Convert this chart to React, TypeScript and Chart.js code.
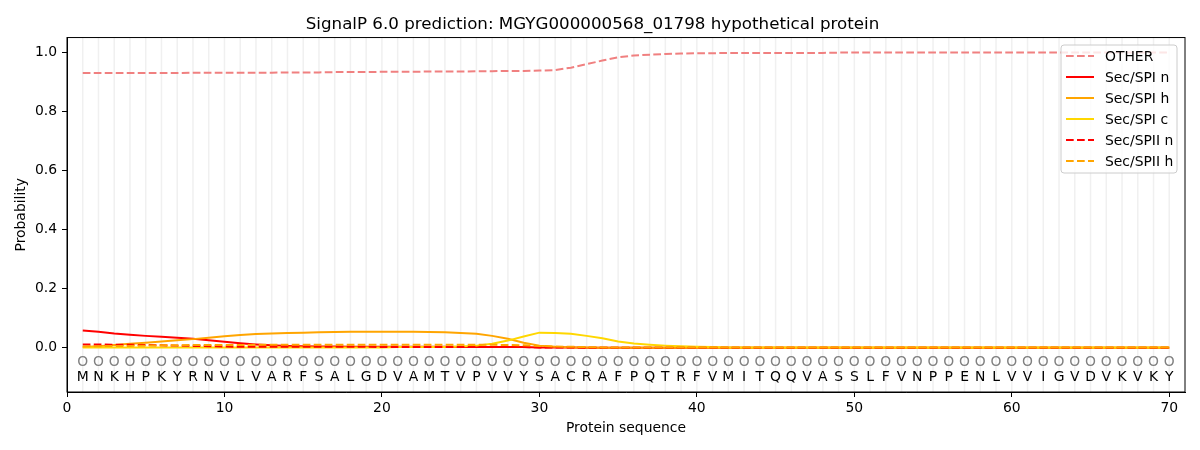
import { useEffect, useRef } from 'react';
import { Chart, registerables } from 'chart.js';
import type { Plugin } from 'chart.js';

Chart.register(...registerables);

const TITLE = 'SignalP 6.0 prediction: MGYG000000568_01798 hypothetical protein';
const SEQUENCE = 'MNKHPKYRNVLVARFSALGDVAMTVPVVYSACRAFPQTRFVMITQQVASSLFVNPPENLVVIGVDVKVKY'.split('');
const X_TICKS = [0, 10, 20, 30, 40, 50, 60, 70];
const Y_TICKS = [0, 0.2, 0.4, 0.6, 0.8, 1.0];

const OTHER = [
    0.930, 0.930, 0.930, 0.930, 0.930, 0.930, 0.930, 0.931, 0.931, 0.931,
    0.931, 0.931, 0.931, 0.932, 0.932, 0.932, 0.933, 0.933, 0.933, 0.934,
    0.934, 0.934, 0.935, 0.935, 0.935, 0.936, 0.936, 0.937, 0.937, 0.938,
    0.940, 0.948, 0.960, 0.972, 0.983, 0.989, 0.992, 0.994, 0.996, 0.997,
    0.997, 0.998, 0.998, 0.998, 0.998, 0.998, 0.998, 0.998, 0.999, 0.999,
    0.999, 0.999, 0.999, 0.999, 0.999, 0.999, 0.999, 0.999, 0.999, 0.999,
    0.999, 0.999, 0.999, 0.999, 0.999, 0.999, 0.999, 0.999, 0.999, 0.999,
];
const SPI_N = [
    0.058, 0.054, 0.048, 0.044, 0.040, 0.037, 0.034, 0.030, 0.025, 0.020,
    0.015, 0.011, 0.008, 0.006, 0.005, 0.004, 0.004, 0.003, 0.003, 0.003,
    0.003, 0.003, 0.003, 0.003, 0.002, 0.002, 0.002, 0.002, 0.002, 0.001,
    0.001, 0.001, 0, 0, 0, 0, 0, 0, 0, 0,
    0, 0, 0, 0, 0, 0, 0, 0, 0, 0,
    0, 0, 0, 0, 0, 0, 0, 0, 0, 0,
    0, 0, 0, 0, 0, 0, 0, 0, 0, 0,
];
const SPI_H = [
    0.002, 0.005, 0.009, 0.013, 0.017, 0.021, 0.025, 0.029, 0.034, 0.039,
    0.043, 0.046, 0.048, 0.050, 0.051, 0.052, 0.053, 0.054, 0.054, 0.054,
    0.054, 0.054, 0.053, 0.052, 0.050, 0.047, 0.040, 0.030, 0.017, 0.007,
    0.003, 0.001, 0.001, 0, 0, 0, 0, 0, 0, 0,
    0, 0, 0, 0, 0, 0, 0, 0, 0, 0,
    0, 0, 0, 0, 0, 0, 0, 0, 0, 0,
    0, 0, 0, 0, 0, 0, 0, 0, 0, 0,
];
const SPI_C = [
    0.001, 0.001, 0.001, 0.001, 0.001, 0.001, 0.001, 0.001, 0.001, 0.001,
    0.001, 0.001, 0.001, 0.001, 0.001, 0.001, 0.001, 0.001, 0.001, 0.001,
    0.002, 0.002, 0.002, 0.002, 0.004, 0.007, 0.013, 0.024, 0.038, 0.051,
    0.050, 0.047, 0.040, 0.032, 0.021, 0.014, 0.010, 0.007, 0.005, 0.003,
    0.002, 0.001, 0.001, 0.001, 0.001, 0.001, 0.001, 0.001, 0.001, 0.001,
    0.001, 0.001, 0.001, 0.001, 0.001, 0.001, 0.001, 0.001, 0.001, 0.001,
    0.001, 0.001, 0.001, 0.001, 0.001, 0.001, 0.001, 0.001, 0.001, 0.001,
];
const SPII_N = [
    0.011, 0.011, 0.010, 0.010, 0.009, 0.008, 0.007, 0.006, 0.005, 0.004,
    0.003, 0.003, 0.003, 0.003, 0.003, 0.003, 0.003, 0.003, 0.003, 0.002,
    0.002, 0.002, 0.002, 0.002, 0.002, 0.002, 0.002, 0.002, 0.002, 0.001,
    0.001, 0.001, 0, 0, 0, 0, 0, 0, 0, 0,
    0, 0, 0, 0, 0, 0, 0, 0, 0, 0,
    0, 0, 0, 0, 0, 0, 0, 0, 0, 0,
    0, 0, 0, 0, 0, 0, 0, 0, 0, 0,
];
const SPII_H = [
    0.004, 0.005, 0.006, 0.006, 0.007, 0.008, 0.008, 0.009, 0.009, 0.009,
    0.009, 0.010, 0.010, 0.010, 0.010, 0.010, 0.010, 0.010, 0.010, 0.010,
    0.010, 0.010, 0.010, 0.010, 0.010, 0.010, 0.010, 0.009, 0.008, 0.006,
    0.004, 0.003, 0.002, 0.001, 0.001, 0.001, 0.001, 0.001, 0.001, 0.001,
    0.001, 0.001, 0.001, 0.001, 0.001, 0.001, 0.001, 0.001, 0.001, 0.001,
    0.001, 0.001, 0.001, 0.001, 0.001, 0.001, 0.001, 0.001, 0.001, 0.001,
    0.001, 0.001, 0.001, 0.001, 0.001, 0.001, 0.001, 0.001, 0.001, 0.001,
];

const SERIES = [
    { label: 'OTHER', values: OTHER, color: '#f08080', dashed: true },
    { label: 'Sec/SPI n', values: SPI_N, color: '#ff0000', dashed: false },
    { label: 'Sec/SPI h', values: SPI_H, color: '#ffa500', dashed: false },
    { label: 'Sec/SPI c', values: SPI_C, color: '#ffd700', dashed: false },
    { label: 'Sec/SPII n', values: SPII_N, color: '#ff0000', dashed: true },
    { label: 'Sec/SPII h', values: SPII_H, color: '#ffa500', dashed: true },
];

const FONT = 'DejaVu Sans';
const DASH = [7.7, 3.3];

// grid lines per residue, letters under the curves, full frame and an in-plot legend
const residuePlugin: Plugin<'line'> = {
    id: 'residues',
    beforeDatasetsDraw(chart) {
        const { ctx, chartArea, scales } = chart;
        ctx.save();
        ctx.strokeStyle = '#f0f0f0';
        ctx.lineWidth = 1.5;
        SEQUENCE.forEach((_, i) => {
            const x = scales.x.getPixelForValue(i + 1);
            ctx.beginPath();
            ctx.moveTo(x, chartArea.top);
            ctx.lineTo(x, chartArea.bottom);
            ctx.stroke();
        });
        ctx.restore();
    },
    afterDatasetsDraw(chart) {
        const { ctx, chartArea, scales } = chart;
        ctx.save();
        ctx.font = `13.9px "${FONT}"`;
        ctx.textAlign = 'center';
        ctx.textBaseline = 'middle';
        SEQUENCE.forEach((aa, i) => {
            const x = scales.x.getPixelForValue(i + 1);
            ctx.fillStyle = '#808080';
            ctx.fillText('O', x, scales.y.getPixelForValue(-0.05));
            ctx.fillStyle = '#000';
            ctx.fillText(aa, x, scales.y.getPixelForValue(-0.1));
        });

        ctx.strokeStyle = '#000';
        ctx.lineWidth = 1;
        ctx.strokeRect(chartArea.left, chartArea.top, chartArea.right - chartArea.left, chartArea.bottom - chartArea.top);

        // legend box
        const bx = 1061, by = 45, bw = 116, bh = 128;
        ctx.beginPath();
        ctx.roundRect(bx, by, bw, bh, 3);
        ctx.fillStyle = 'rgba(255,255,255,0.8)';
        ctx.fill();
        ctx.strokeStyle = '#cccccc';
        ctx.stroke();
        ctx.textAlign = 'left';
        SERIES.forEach((s, i) => {
            const y = 56 + i * 21;
            ctx.beginPath();
            ctx.setLineDash(s.dashed ? DASH : []);
            ctx.strokeStyle = s.color;
            ctx.lineWidth = 2;
            ctx.moveTo(1066, y);
            ctx.lineTo(1094, y);
            ctx.stroke();
            ctx.setLineDash([]);
            ctx.fillStyle = '#000';
            ctx.fillText(s.label, 1105, y + 1);
        });
        ctx.restore();
    },
};

export default function App() {
    const canvasRef = useRef<HTMLCanvasElement | null>(null);

    useEffect(() => {
        const canvas = canvasRef.current;
        if (!canvas) return;
        Chart.defaults.color = '#000';
        Chart.defaults.font.family = FONT;

        const chart = new Chart(canvas, {
            type: 'line',
            data: {
                datasets: SERIES.map((s, i) => ({
                    label: s.label,
                    data: s.values.map((v, j) => ({ x: j + 1, y: v })),
                    borderColor: s.color,
                    backgroundColor: s.color,
                    borderWidth: 2,
                    borderDash: s.dashed ? DASH : [],
                    pointRadius: 0,
                    tension: 0,
                    order: SERIES.length - i,
                })),
            },
            options: {
                animation: false,
                responsive: true,
                maintainAspectRatio: false,
                layout: { padding: { left: 0, right: 15, top: 0, bottom: 0 } },
                plugins: {
                    legend: { display: false },
                    tooltip: { enabled: false },
                    title: {
                        display: true,
                        text: TITLE,
                        color: '#000',
                        font: { size: 16.7, weight: 'normal' },
                        padding: { top: 15, bottom: 2.5 },
                    },
                },
                scales: {
                    x: {
                        type: 'linear',
                        min: 0,
                        max: 71,
                        afterBuildTicks: (s) => { s.ticks = X_TICKS.map((v) => ({ value: v })); },
                        afterFit: (s) => { s.height = 58; },
                        ticks: { font: { size: 13.9 }, padding: 3, maxRotation: 0, callback: (v) => String(v) },
                        grid: { drawOnChartArea: false, tickLength: 5, color: '#000' },
                        border: { color: '#000' },
                        title: { display: true, text: 'Protein sequence', font: { size: 13.9 }, padding: { top: 0, bottom: 13 } },
                    },
                    y: {
                        min: -0.15,
                        max: 1.05,
                        afterBuildTicks: (s) => { s.ticks = Y_TICKS.map((v) => ({ value: v })); },
                        afterFit: (s) => { s.width = 67; },
                        ticks: { font: { size: 13.9 }, padding: 5, callback: (v) => Number(v).toFixed(1) },
                        grid: { drawOnChartArea: false, tickLength: 5, color: '#000' },
                        border: { color: '#000' },
                        title: { display: true, text: 'Probability', font: { size: 13.9 }, padding: { top: 13, bottom: 0 } },
                    },
                },
            },
            plugins: [residuePlugin],
        });

        return () => chart.destroy();
    }, []);

    return (
        <div style={{ position: 'absolute', left: 0, top: 0, width: 1200, height: 450, background: '#fff' }}>
            <canvas ref={canvasRef} />
        </div>
    );
}
